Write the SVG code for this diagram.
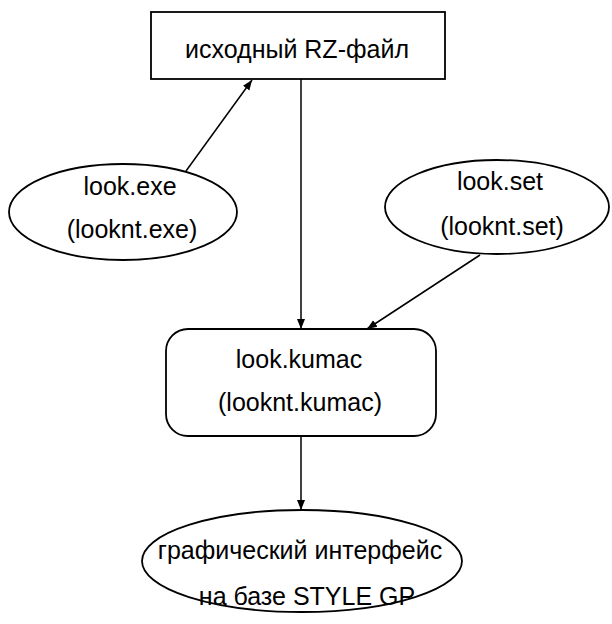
<svg xmlns="http://www.w3.org/2000/svg" width="612" height="624" viewBox="0 0 612 624">
<style>
.s{fill:#fff;stroke:#000;stroke-width:1.8}
.t{font-family:"Liberation Sans",Arial,sans-serif;font-size:25px;fill:#000;text-anchor:middle}
.c{stroke:#000;stroke-width:1.5;fill:none;marker-end:url(#a)}
</style>
<defs>
<marker id="a" viewBox="0 0 10 10" refX="10" refY="5" markerWidth="10" markerHeight="10" markerUnits="userSpaceOnUse" orient="auto">
<path d="M0,1 L10,5 L0,9 Z" fill="#000"/>
</marker>
</defs>
<rect width="612" height="624" fill="#fff"/>
<g id="connectors">
<line class="c" x1="301" y1="79" x2="301" y2="329"/>
<line class="c" x1="186" y1="171" x2="252" y2="80"/>
<line class="c" x1="480" y1="255" x2="367" y2="329"/>
<line class="c" x1="301" y1="436" x2="301" y2="510"/>
</g>
<g id="rz">
<rect class="s" x="151" y="12" width="294" height="67"/>
<text class="t" x="297" y="58">исходный RZ-файл</text>
</g>
<g id="exe">
<ellipse class="s" cx="123" cy="212" rx="114" ry="48"/>
<text class="t" x="130" y="195">look.exe</text>
<text class="t" x="132" y="238">(looknt.exe)</text>
</g>
<g id="set">
<ellipse class="s" cx="497" cy="207" rx="112" ry="47"/>
<text class="t" x="500" y="190">look.set</text>
<text class="t" x="502" y="235">(looknt.set)</text>
</g>
<g id="kumac">
<rect class="s" x="166" y="329" width="270" height="107" rx="22" ry="22"/>
<text class="t" x="299" y="368">look.kumac</text>
<text class="t" x="300" y="411">(looknt.kumac)</text>
</g>
<g id="gui">
<ellipse class="s" cx="302" cy="561" rx="160" ry="51"/>
<text class="t" x="300" y="559">графический интерфейс</text>
<text class="t" x="307" y="605">на базе STYLE GP</text>
</g>
</svg>
